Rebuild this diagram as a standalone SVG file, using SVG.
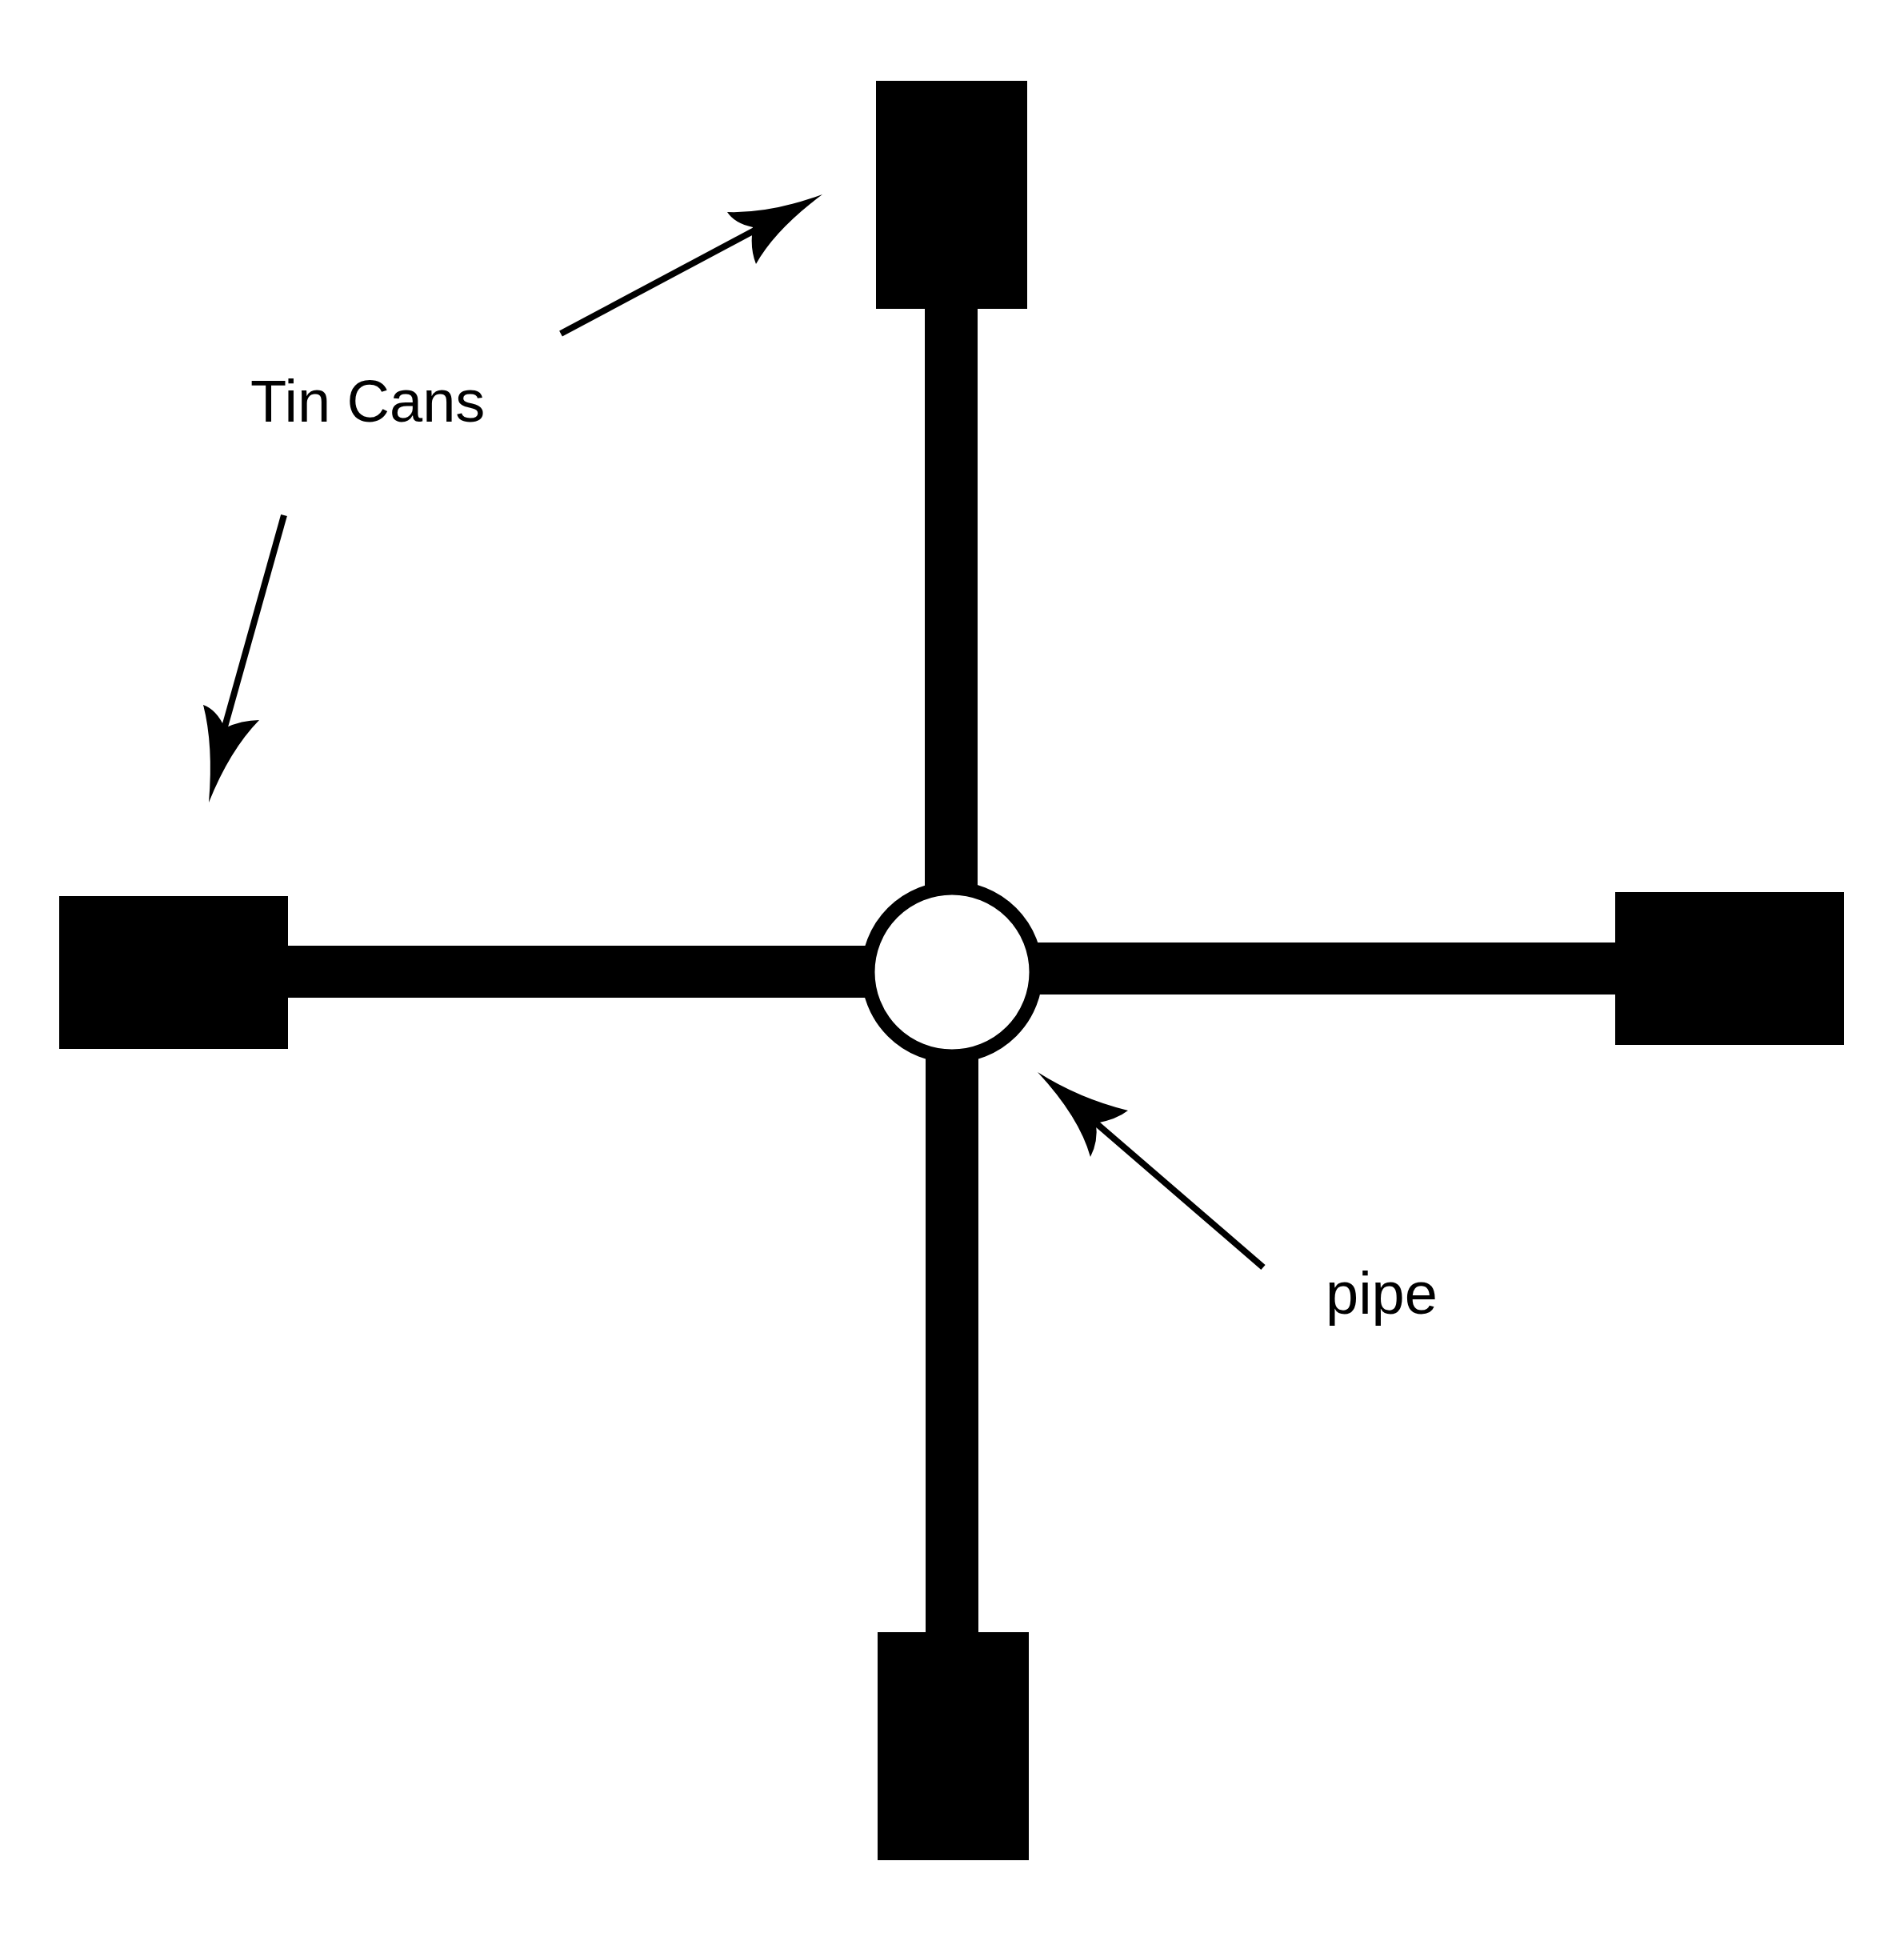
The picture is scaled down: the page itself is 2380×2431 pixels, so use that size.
<svg xmlns="http://www.w3.org/2000/svg" width="2380" height="2431" viewBox="0 0 2380 2431">
<style>
.box{fill:#000}
.bar{fill:#000}
.ln{stroke:#000;stroke-width:8;fill:none}
.hd{fill:#000}
text{font-family:"Liberation Sans",Arial,sans-serif;font-size:74px;fill:#000}
</style>
<rect width="2380" height="2431" fill="#fff"/>
<g id="pipes">
<rect class="bar" x="1156" y="380" width="66" height="740"/>
<rect class="bar" x="1157" y="1310" width="66" height="735"/>
<rect class="bar" x="355" y="1182" width="740" height="65"/>
<rect class="bar" x="1290" y="1178" width="735" height="65"/>
</g>
<g id="can-top"><rect class="box" x="1095" y="101" width="189" height="285"/></g>
<g id="can-left"><rect class="box" x="74" y="1120" width="286" height="191"/></g>
<g id="can-right"><rect class="box" x="2019" y="1115" width="286" height="191"/></g>
<g id="can-bottom"><rect class="box" x="1097" y="2040" width="189" height="285"/></g>
<g id="hub"><circle cx="1190" cy="1215" r="105" fill="#fff" stroke="#000" stroke-width="17"/></g>
<g id="connectors">
<line class="ln" x1="701" y1="417" x2="945" y2="287"/>
<path class="hd" d="M909,265 Q962,267 1028,243 Q969,287 945,330 Q937,310 941,284 Q918,279 909,265 Z"/>
<line class="ln" x1="355" y1="644" x2="280" y2="912"/>
<path class="hd" d="M254,881 Q267,931 261,1003 Q287,938 324,900 Q302,900 281,910 Q271,887 254,881 Z"/>
<line class="ln" x1="1579" y1="1584" x2="1368" y2="1402"/>
<path class="hd" d="M1297,1340 Q1349,1373 1410,1388 Q1396,1399 1370,1404 Q1373,1427 1363,1446 Q1349,1396 1297,1340 Z"/>
</g>
<g id="labels">
<text x="313" y="527">Tin Cans</text>
<text x="1657" y="1642">pipe</text>
</g>
</svg>
